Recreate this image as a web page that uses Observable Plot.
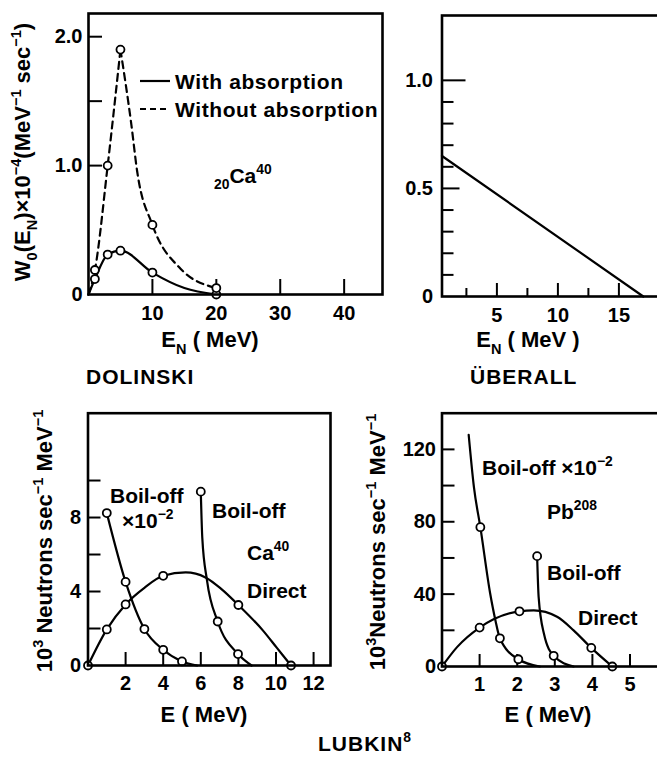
<!DOCTYPE html>
<html>
<head>
<meta charset="utf-8">
<script src="https://cdn.jsdelivr.net/npm/d3@7"></script>
<script src="https://cdn.jsdelivr.net/npm/@observablehq/plot@0.6"></script>
<style>
  html, body { margin: 0; padding: 0; background: #fff; overflow: hidden; }
  #fig { position: relative; width: 657px; height: 757px; overflow: hidden; background: #fff; }
  #fig svg { position: absolute; }
</style>
</head>
<body>
<div id="fig"></div>
<script>
// ---- Dolinski, 20Ca40: W0(EN) x 10^-4 (MeV^-1 sec^-1) vs EN (MeV) ----
// each point: [EN, W0, circled?]
const dolinskiWith = [[0, 0, 0], [1, 0.12, 1], [3, 0.31, 1], [5, 0.34, 1], [10, 0.17, 1], [15, 0.05, 0], [20, 0, 1]];
const dolinskiWithout = [[0, 0, 0], [1, 0.19, 1], [3, 1.0, 1], [5, 1.9, 1], [6.7, 1.32, 0], [7.6, 0.96, 0], [10, 0.54, 1], [14.4, 0.2, 0], [20, 0.05, 1]];
const dolinskiXTicks = [10, 20, 30, 40];
const dolinskiYTicks = [1, 1.5, 2];
const dolinskiYLabels = [[0, "0"], [1, "1.0"], [2, "2.0"]];

// ---- Überall: straight-line spectrum ----
const uberallLine = [[0.5, 0.65], [17, 0]];
const uberallXMajor = [5, 10, 15];
const uberallXMinor = [2.5, 7.5, 12.5];
const uberallYMinor = [0.1, 0.2, 0.3, 0.4, 0.6, 0.7, 0.8, 0.9];
const uberallYLabels = [[0, "0"], [0.5, "0.5"], [1, "1.0"]];

// ---- Lubkin, Ca40: 10^3 neutrons sec^-1 MeV^-1 vs E (MeV) ----
const caBoilOffScaled = [[1, 8.24, 1], [2, 4.52, 1], [3, 1.97, 1], [4, 0.85, 1], [5, 0.22, 1], [5.8, 0, 0]];
const caBoilOff = [[6.0, 9.4, 1], [6.08, 6.9, 0], [6.33, 4.6, 0], [6.9, 2.38, 1], [7.98, 0.62, 1], [8.7, 0, 0]];
const caDirect = [[0, 0, 1], [1, 1.95, 1], [2, 3.3, 1], [3, 4.2, 0], [4, 4.85, 1], [5.2, 5.03, 0], [6.25, 4.76, 0], [7.1, 4.13, 0], [8, 3.27, 1], [9.3, 1.9, 0], [10.05, 0.95, 0], [10.8, 0, 1]];
const caXTicks = [2, 4, 6, 8, 10, 12];
const caYTicks = [2, 4, 6, 8, 10];
const caYLabels = [[0, "0"], [4, "4"], [8, "8"]];

// ---- Lubkin, Pb208 ----
const pbBoilOffScaled = [[0.71, 128, 0], [0.85, 99, 0], [1.02, 77, 1], [1.28, 40.5, 0], [1.42, 25.6, 0], [1.54, 15.6, 1], [2.03, 4.0, 1], [2.6, 0, 0]];
const pbBoilOff = [[2.53, 61, 1], [2.57, 38.5, 0], [2.71, 18.2, 0], [2.97, 5.9, 1], [3.5, 0, 0]];
const pbDirect = [[0, 0, 1], [0.4, 10.7, 0], [1, 21.5, 1], [2.06, 30.5, 1], [2.44, 31, 0], [3.06, 27.5, 0], [3.5, 20, 0], [3.97, 10.3, 1], [4.53, 0, 1]];
const pbXTicks = [1, 2, 3, 4, 5];
const pbYTicks = [20, 40, 60, 80, 100, 120];
const pbYLabels = [[0, "0"], [40, "40"], [80, "80"], [120, "120"]];

const FONT = "'Liberation Sans', Arial, sans-serif";
const fig = document.getElementById("fig");

// inward tick helpers: ticks of given pixel length drawn from the frame edge
function xTicks(values, len, plotH, sw = 2) {
  return Plot.tickX(values, {x: d => d, insetTop: plotH - len, strokeWidth: sw});
}
function yTicks(values, len, plotW, sw = 2) {
  return Plot.tickY(values, {y: d => d, insetRight: plotW - len, strokeWidth: sw});
}
function curve(data, dash) {
  return Plot.line(data, {x: d => d[0], y: d => d[1], curve: "monotone-x", strokeWidth: 2.2,
    strokeDasharray: dash ? "7,5" : null});
}
function circles(data) {
  return Plot.dot(data.filter(d => d[2]), {x: d => d[0], y: d => d[1], r: 4, fill: "white", stroke: "black", strokeWidth: 1.8});
}

function panel({left, top, width, height, ml, mr, mt, mb, xd, yd, marks}) {
  const svg = Plot.plot({
    width, height, marginLeft: ml, marginRight: mr, marginTop: mt, marginBottom: mb,
    x: {domain: xd, axis: null}, y: {domain: yd, axis: null},
    style: {fontFamily: FONT, fontSize: "20px", fontWeight: "bold", background: "transparent", overflow: "visible", color: "black"},
    marks
  });
  svg.style.left = left + "px";
  svg.style.top = top + "px";
  fig.appendChild(svg);
  return svg;
}

function yTickLabels(labels, dx) {
  return Plot.text(labels, {y: d => d[0], text: d => d[1], frameAnchor: "left", textAnchor: "end", dx: -dx});
}
function xTickLabels(values, dy) {
  return Plot.text(values, {x: d => d, text: d => String(d), frameAnchor: "bottom", lineAnchor: "top", dy});
}

// Dolinski panel
{
  const g = {left: 0, top: 0, width: 400, height: 395, ml: 88, mr: 18, mt: 13, mb: 101};
  const pw = g.width - g.ml - g.mr, ph = g.height - g.mt - g.mb;
  panel({...g, xd: [0, 46], yd: [0, 2.18], marks: [
    xTicks(dolinskiXTicks, 15, ph),
    yTicks(dolinskiYTicks, 14, pw),
    curve(dolinskiWith, false),
    curve(dolinskiWithout.filter(d => d[0] <= 5), true),
    curve(dolinskiWithout.filter(d => d[0] >= 5), true),
    circles(dolinskiWith),
    circles(dolinskiWithout),
    yTickLabels(dolinskiYLabels, 6),
    xTickLabels(dolinskiXTicks, 11),
    Plot.frame({strokeWidth: 2.6})
  ]});
}

// Überall panel (extends past the right page edge)
{
  const g = {left: 400, top: 0, width: 300, height: 395, ml: 41.5, mr: 38.9, mt: 15, mb: 99};
  const pw = g.width - g.ml - g.mr, ph = g.height - g.mt - g.mb;
  panel({...g, xd: [0.5, 18.5], yd: [0, 1.3], marks: [
    xTicks(uberallXMajor, 13, ph),
    xTicks(uberallXMinor, 8, ph),
    yTicks(uberallYMinor, 12, pw),
    yTicks([0.5], 18, pw),
    yTicks([1], 24, pw),
    Plot.line(uberallLine, {x: d => d[0], y: d => d[1], strokeWidth: 2.2}),
    yTickLabels(uberallYLabels, 9),
    xTickLabels(uberallXMajor, 11),
    Plot.frame({strokeWidth: 2.6})
  ]});
}

// Lubkin Ca40 panel
{
  const g = {left: 0, top: 395, width: 345, height: 362, ml: 87.5, mr: 15, mt: 17.7, mb: 92};
  const pw = g.width - g.ml - g.mr, ph = g.height - g.mt - g.mb;
  panel({...g, xd: [0, 12.9], yd: [0, 13.64], marks: [
    xTicks(caXTicks, 13, ph),
    yTicks(caYTicks, 13, pw),
    curve(caBoilOffScaled), curve(caBoilOff), curve(caDirect),
    circles(caBoilOffScaled), circles(caBoilOff), circles(caDirect),
    yTickLabels(caYLabels, 7),
    xTickLabels(caXTicks, 10),
    Plot.frame({strokeWidth: 2.6})
  ]});
}

// Lubkin Pb208 panel
{
  const g = {left: 345, top: 395, width: 345, height: 362, ml: 96.5, mr: 22.9, mt: 17.7, mb: 91};
  const pw = g.width - g.ml - g.mr, ph = g.height - g.mt - g.mb;
  panel({...g, xd: [0, 6], yd: [0, 140], marks: [
    xTicks(pbXTicks, 12, ph),
    yTicks(pbYTicks, 13, pw),
    curve(pbBoilOffScaled), curve(pbBoilOff), curve(pbDirect),
    circles(pbBoilOffScaled), circles(pbBoilOff), circles(pbDirect),
    yTickLabels(pbYLabels, 6),
    xTickLabels(pbXTicks, 10),
    Plot.frame({strokeWidth: 2.6})
  ]});
}

// ---- titles, axis names and annotations with sub/superscripts ----
const over = d3.create("svg").attr("width", 657).attr("height", 757)
  .style("left", "0px").style("top", "0px")
  .attr("font-family", FONT).attr("font-weight", "bold").attr("fill", "black");
fig.appendChild(over.node());

// parts: strings, or [text, "sup"|"sub"]
function rich(x, y, parts, {size = 21, anchor = "start", rotate = 0, spacing = 0} = {}) {
  const t = over.append("text")
    .attr("transform", `translate(${x},${y})${rotate ? ` rotate(${rotate})` : ""}`)
    .attr("text-anchor", anchor).attr("font-size", size)
    .attr("letter-spacing", spacing);
  let shift = 0;
  for (const p of parts) {
    const [s, kind] = typeof p === "string" ? [p, ""] : p;
    const off = kind === "sup" ? -0.42 * size : kind === "sub" ? 0.3 * size : 0;
    t.append("tspan").attr("dy", off - shift).attr("font-size", kind ? size * 0.66 : size).text(s);
    shift = off;
  }
  return t;
}

// legend of the Dolinski panel
over.append("line").attr("x1", 140).attr("x2", 170).attr("y1", 81).attr("y2", 81).attr("stroke", "black").attr("stroke-width", 2.2);
over.append("line").attr("x1", 140).attr("x2", 170).attr("y1", 109).attr("y2", 109).attr("stroke", "black").attr("stroke-width", 2.2).attr("stroke-dasharray", "6,4");
rich(175, 89, ["With  absorption"], {spacing: 0.6});
rich(175, 117, ["Without absorption"], {spacing: 0.6});
rich(214, 183, [["20", "sub"], "Ca", ["40", "sup"]]);

// axis names
rich(30, 152, ["W", ["0", "sub"], "(E", ["N", "sub"], ")\u00d710", ["\u22124", "sup"], "(MeV", ["\u22121", "sup"], " sec", ["\u22121", "sup"], ")"], {anchor: "middle", rotate: -90, size: 22});
rich(210, 347, ["E", ["N", "sub"], " ( MeV)"], {anchor: "middle", size: 22});
rich(528, 347, ["E", ["N", "sub"], " ( MeV )"], {anchor: "middle", size: 22});
rich(86, 384, ["DOLINSKI"], {size: 21, spacing: 1});
rich(470, 384, ["\u00dcBERALL"], {size: 21, spacing: 1});

rich(52, 541, ["10", ["3", "sup"], " Neutrons sec", ["\u22121", "sup"], " MeV", ["\u22121", "sup"]], {anchor: "middle", rotate: -90, size: 22});
rich(385, 542, ["10", ["3", "sup"], "Neutrons sec", ["\u22121", "sup"], " MeV", ["\u22121", "sup"]], {anchor: "middle", rotate: -90, size: 22});
rich(204, 722, ["E  ( MeV)"], {anchor: "middle", size: 22});
rich(548, 722, ["E  ( MeV)"], {anchor: "middle", size: 22});
rich(318, 751, ["LUBKIN", ["8", "sup"]], {size: 21, spacing: 1});

// Ca40 annotations
rich(110, 503, ["Boil-off"]);
rich(122, 528, ["\u00d710", ["\u22122", "sup"]]);
rich(212, 518, ["Boil-off"]);
rich(247, 560, ["Ca", ["40", "sup"]]);
rich(247, 598, ["Direct"]);

// Pb208 annotations
rich(482, 475, ["Boil-off \u00d710", ["\u22122", "sup"]]);
rich(547, 519, ["Pb", ["208", "sup"]]);
rich(547, 580, ["Boil-off"]);
rich(578, 625, ["Direct"]);
</script>
</body>
</html>
